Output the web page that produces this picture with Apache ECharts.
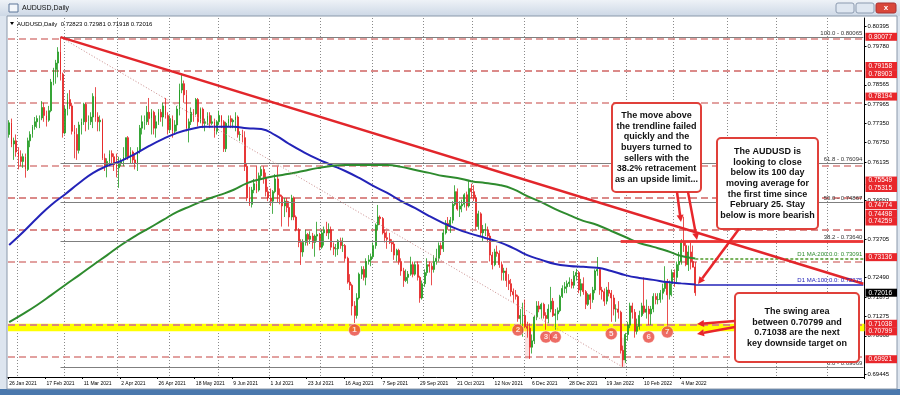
<!DOCTYPE html>
<html><head><meta charset="utf-8">
<script src="https://cdn.jsdelivr.net/npm/echarts@6/dist/echarts.min.js"></script>
<style>html,body{margin:0;padding:0;background:#fff}#c{width:900px;height:395px}</style>
</head><body><div id="c"></div>
<script>
// ---------- DATA ----------
const nCats = 367;
const xTickDates = ['2021-01-26','2021-02-17','2021-03-11','2021-04-02','2021-04-26','2021-05-18','2021-06-09','2021-07-01','2021-07-23','2021-08-16','2021-09-07','2021-09-29','2021-10-21','2021-11-12','2021-12-06','2021-12-28','2022-01-19','2022-02-10','2022-03-04'];
const xTickLabels = ['26 Jan 2021','17 Feb 2021','11 Mar 2021','2 Apr 2021','26 Apr 2021','18 May 2021','9 Jun 2021','1 Jul 2021','23 Jul 2021','16 Aug 2021','7 Sep 2021','29 Sep 2021','21 Oct 2021','12 Nov 2021','6 Dec 2021','28 Dec 2021','19 Jan 2022','10 Feb 2022','4 Mar 2022'];
const yTicks = [0.80395,0.79780,0.78565,0.77965,0.77350,0.76750,0.76135,0.74920,0.73705,0.72490,0.71875,0.71275,0.70660,0.69445];
// daily candles [open, high, low, close], one per weekday from 26 Jan 2021
const ohlc = [
[0.7700,0.7745,0.7690,0.7737],[0.7737,0.7750,0.7660,0.7670],[0.7670,0.7690,0.7620,0.7680],[0.7680,0.7700,0.7630,0.7645],[0.7645,0.7660,0.7590,0.7630],
[0.7630,0.7650,0.7600,0.7615],[0.7615,0.7640,0.7595,0.7630],[0.7630,0.7640,0.7564,0.7590],[0.7590,0.7690,0.7585,0.7680],[0.7680,0.7710,0.7660,0.7700],
[0.7700,0.7730,0.7690,0.7725],[0.7725,0.7755,0.7715,0.7740],[0.7740,0.7760,0.7720,0.7750],[0.7750,0.7760,0.7720,0.7752],[0.7752,0.7805,0.7745,0.7785],
[0.7785,0.7800,0.7740,0.7760],[0.7760,0.7775,0.7725,0.7745],[0.7745,0.7790,0.7740,0.7775],[0.7775,0.7875,0.7770,0.7865],[0.7865,0.7910,0.7855,0.7905],
[0.7905,0.7935,0.7860,0.7925],[0.7925,0.7975,0.7880,0.7960],[0.7960,0.8007,0.7870,0.7890],[0.7890,0.7895,0.7690,0.7705],[0.7705,0.7790,0.7700,0.7780],
[0.7780,0.7830,0.7760,0.7810],[0.7810,0.7840,0.7780,0.7790],[0.7790,0.7800,0.7700,0.7710],[0.7710,0.7730,0.7625,0.7700],[0.7700,0.7720,0.7620,0.7650],
[0.7650,0.7740,0.7640,0.7730],[0.7730,0.7750,0.7700,0.7740],[0.7740,0.7800,0.7730,0.7795],[0.7795,0.7800,0.7710,0.7740],[0.7740,0.7760,0.7715,0.7740],
[0.7740,0.7770,0.7730,0.7755],[0.7755,0.7830,0.7720,0.7820],[0.7820,0.7849,0.7740,0.7755],[0.7755,0.7770,0.7710,0.7740],[0.7740,0.7760,0.7710,0.7745],
[0.7745,0.7750,0.7620,0.7625],[0.7625,0.7640,0.7585,0.7600],[0.7600,0.7625,0.7565,0.7615],[0.7615,0.7650,0.7600,0.7640],[0.7640,0.7650,0.7605,0.7630],
[0.7630,0.7640,0.7585,0.7605],[0.7605,0.7640,0.7565,0.7595],[0.7595,0.7630,0.7532,0.7610],[0.7610,0.7625,0.7600,0.7615],[0.7615,0.7660,0.7600,0.7630],
[0.7630,0.7690,0.7620,0.7690],[0.7690,0.7695,0.7620,0.7630],[0.7630,0.7660,0.7610,0.7645],[0.7645,0.7650,0.7610,0.7620],[0.7620,0.7640,0.7590,0.7610],
[0.7610,0.7660,0.7585,0.7650],[0.7650,0.7730,0.7640,0.7720],[0.7720,0.7760,0.7700,0.7740],[0.7740,0.7760,0.7715,0.7740],[0.7740,0.7790,0.7730,0.7770],
[0.7770,0.7815,0.7730,0.7750],[0.7750,0.7780,0.7700,0.7770],[0.7770,0.7775,0.7700,0.7720],[0.7720,0.7760,0.7690,0.7740],[0.7740,0.7780,0.7730,0.7770],
[0.7770,0.7780,0.7740,0.7755],[0.7755,0.7800,0.7725,0.7790],[0.7790,0.7815,0.7750,0.7760],[0.7760,0.7770,0.7700,0.7715],[0.7715,0.7760,0.7705,0.7750],
[0.7750,0.7760,0.7690,0.7710],[0.7710,0.7745,0.7700,0.7730],[0.7730,0.7790,0.7710,0.7780],[0.7780,0.7860,0.7760,0.7840],[0.7840,0.7891,0.7830,0.7860],
[0.7860,0.7870,0.7800,0.7825],[0.7825,0.7840,0.7710,0.7720],[0.7720,0.7750,0.7675,0.7740],[0.7740,0.7785,0.7730,0.7770],[0.7770,0.7780,0.7740,0.7765],
[0.7765,0.7815,0.7760,0.7810],[0.7810,0.7815,0.7725,0.7740],[0.7740,0.7785,0.7735,0.7780],[0.7780,0.7785,0.7720,0.7735],[0.7735,0.7750,0.7710,0.7740],
[0.7740,0.7770,0.7730,0.7760],[0.7760,0.7770,0.7720,0.7735],[0.7735,0.7760,0.7730,0.7740],[0.7740,0.7750,0.7690,0.7710],[0.7710,0.7745,0.7700,0.7740],
[0.7740,0.7775,0.7730,0.7760],[0.7760,0.7760,0.7720,0.7740],[0.7740,0.7745,0.7645,0.7655],[0.7655,0.7740,0.7645,0.7735],[0.7735,0.7760,0.7725,0.7750],
[0.7750,0.7760,0.7720,0.7740],[0.7740,0.7750,0.7720,0.7745],[0.7745,0.7770,0.7710,0.7755],[0.7755,0.7760,0.7690,0.7700],[0.7700,0.7710,0.7680,0.7700],
[0.7700,0.7715,0.7675,0.7690],[0.7690,0.7710,0.7585,0.7600],[0.7600,0.7610,0.7490,0.7500],[0.7500,0.7535,0.7475,0.7480],[0.7480,0.7535,0.7470,0.7525],
[0.7525,0.7560,0.7515,0.7545],[0.7545,0.7600,0.7515,0.7525],[0.7525,0.7580,0.7520,0.7570],[0.7570,0.7600,0.7560,0.7590],[0.7590,0.7600,0.7545,0.7565],
[0.7565,0.7580,0.7505,0.7520],[0.7520,0.7535,0.7490,0.7500],[0.7500,0.7530,0.7475,0.7490],[0.7490,0.7525,0.7450,0.7520],[0.7520,0.7575,0.7515,0.7560],
[0.7560,0.7599,0.7485,0.7510],[0.7510,0.7530,0.7480,0.7505],[0.7505,0.7510,0.7410,0.7475],[0.7475,0.7500,0.7440,0.7490],[0.7490,0.7500,0.7455,0.7470],
[0.7470,0.7490,0.7410,0.7440],[0.7440,0.7510,0.7430,0.7500],[0.7500,0.7505,0.7430,0.7440],[0.7440,0.7445,0.7395,0.7400],[0.7400,0.7405,0.7345,0.7360],
[0.7360,0.7370,0.7289,0.7330],[0.7330,0.7370,0.7315,0.7360],[0.7360,0.7400,0.7350,0.7385],[0.7385,0.7390,0.7350,0.7370],[0.7370,0.7395,0.7355,0.7380],
[0.7380,0.7390,0.7340,0.7360],[0.7360,0.7385,0.7315,0.7380],[0.7380,0.7425,0.7365,0.7385],[0.7385,0.7390,0.7335,0.7345],[0.7345,0.7400,0.7340,0.7390],
[0.7390,0.7410,0.7350,0.7400],[0.7400,0.7425,0.7380,0.7390],[0.7390,0.7420,0.7370,0.7400],[0.7400,0.7410,0.7335,0.7345],[0.7345,0.7360,0.7320,0.7340],
[0.7340,0.7355,0.7315,0.7340],[0.7340,0.7370,0.7320,0.7365],[0.7365,0.7375,0.7340,0.7350],[0.7350,0.7375,0.7330,0.7350],[0.7350,0.7355,0.7300,0.7310],
[0.7310,0.7315,0.7230,0.7235],[0.7235,0.7260,0.7210,0.7225],[0.7225,0.7230,0.7130,0.7160],[0.7160,0.7175,0.7106,0.7130],[0.7130,0.7200,0.7120,0.7185],
[0.7185,0.7265,0.7180,0.7260],[0.7260,0.7285,0.7245,0.7275],[0.7275,0.7285,0.7240,0.7250],[0.7250,0.7310,0.7225,0.7300],[0.7300,0.7320,0.7290,0.7305],
[0.7305,0.7325,0.7285,0.7315],[0.7315,0.7360,0.7310,0.7350],[0.7350,0.7420,0.7340,0.7415],[0.7415,0.7478,0.7400,0.7440],[0.7440,0.7445,0.7415,0.7435],
[0.7435,0.7440,0.7385,0.7390],[0.7390,0.7400,0.7360,0.7375],[0.7375,0.7395,0.7340,0.7370],[0.7370,0.7390,0.7355,0.7360],[0.7360,0.7370,0.7330,0.7355],
[0.7355,0.7365,0.7305,0.7320],[0.7320,0.7340,0.7300,0.7335],[0.7335,0.7340,0.7290,0.7300],[0.7300,0.7310,0.7255,0.7270],[0.7270,0.7280,0.7220,0.7240],
[0.7240,0.7275,0.7235,0.7250],[0.7250,0.7270,0.7230,0.7260],[0.7260,0.7315,0.7255,0.7290],[0.7290,0.7300,0.7250,0.7260],[0.7260,0.7300,0.7255,0.7290],
[0.7290,0.7300,0.7240,0.7250],[0.7250,0.7255,0.7170,0.7185],[0.7185,0.7240,0.7180,0.7230],[0.7230,0.7275,0.7220,0.7265],[0.7265,0.7310,0.7255,0.7290],
[0.7290,0.7300,0.7265,0.7285],[0.7285,0.7295,0.7225,0.7275],[0.7275,0.7320,0.7265,0.7300],[0.7300,0.7340,0.7290,0.7310],[0.7310,0.7360,0.7300,0.7350],
[0.7350,0.7360,0.7320,0.7340],[0.7340,0.7400,0.7330,0.7390],[0.7390,0.7430,0.7385,0.7420],[0.7420,0.7440,0.7400,0.7410],[0.7410,0.7440,0.7390,0.7430],
[0.7430,0.7490,0.7420,0.7480],[0.7480,0.7540,0.7475,0.7520],[0.7520,0.7530,0.7460,0.7465],[0.7465,0.7490,0.7440,0.7475],[0.7475,0.7495,0.7455,0.7480],
[0.7480,0.7515,0.7470,0.7510],[0.7510,0.7520,0.7460,0.7475],[0.7475,0.7556,0.7470,0.7530],[0.7530,0.7545,0.7500,0.7520],[0.7520,0.7540,0.7490,0.7500],
[0.7500,0.7510,0.7400,0.7410],[0.7410,0.7460,0.7400,0.7450],[0.7450,0.7455,0.7380,0.7390],[0.7390,0.7415,0.7365,0.7400],[0.7400,0.7420,0.7380,0.7400],
[0.7400,0.7410,0.7360,0.7380],[0.7380,0.7390,0.7300,0.7320],[0.7320,0.7330,0.7275,0.7290],[0.7290,0.7340,0.7285,0.7330],[0.7330,0.7350,0.7315,0.7325],
[0.7325,0.7335,0.7280,0.7290],[0.7290,0.7300,0.7240,0.7265],[0.7265,0.7280,0.7240,0.7270],[0.7270,0.7280,0.7220,0.7240],[0.7240,0.7260,0.7210,0.7230],
[0.7230,0.7245,0.7190,0.7205],[0.7205,0.7215,0.7170,0.7195],[0.7195,0.7210,0.7180,0.7190],[0.7190,0.7195,0.7110,0.7120],[0.7120,0.7150,0.7100,0.7130],
[0.7130,0.7170,0.7063,0.7130],[0.7130,0.7180,0.7090,0.7095],[0.7095,0.7110,0.7060,0.7090],[0.7090,0.7105,0.6993,0.7030],[0.7030,0.7070,0.7010,0.7050],
[0.7050,0.7130,0.7040,0.7125],[0.7125,0.7175,0.7115,0.7160],[0.7160,0.7175,0.7140,0.7150],[0.7150,0.7170,0.7120,0.7165],[0.7165,0.7170,0.7120,0.7130],
[0.7130,0.7140,0.7085,0.7120],[0.7120,0.7165,0.7105,0.7150],[0.7150,0.7220,0.7140,0.7175],[0.7175,0.7185,0.7125,0.7130],[0.7130,0.7150,0.7085,0.7135],
[0.7135,0.7155,0.7115,0.7145],[0.7145,0.7195,0.7140,0.7190],[0.7190,0.7225,0.7185,0.7215],[0.7215,0.7235,0.7200,0.7220],[0.7220,0.7240,0.7200,0.7230],
[0.7230,0.7250,0.7220,0.7235],[0.7235,0.7245,0.7215,0.7225],[0.7225,0.7270,0.7215,0.7255],[0.7255,0.7277,0.7240,0.7265],[0.7265,0.7270,0.7200,0.7210],
[0.7210,0.7245,0.7190,0.7230],[0.7230,0.7250,0.7195,0.7205],[0.7205,0.7210,0.7150,0.7165],[0.7165,0.7200,0.7160,0.7195],[0.7195,0.7200,0.7150,0.7180],
[0.7180,0.7220,0.7170,0.7210],[0.7210,0.7275,0.7200,0.7270],[0.7270,0.7314,0.7255,0.7275],[0.7275,0.7280,0.7195,0.7210],[0.7210,0.7220,0.7180,0.7205],
[0.7205,0.7215,0.7160,0.7175],[0.7175,0.7220,0.7165,0.7210],[0.7210,0.7235,0.7190,0.7200],[0.7200,0.7210,0.7110,0.7185],[0.7185,0.7195,0.7130,0.7150],
[0.7150,0.7165,0.7110,0.7150],[0.7150,0.7175,0.7120,0.7140],[0.7140,0.7145,0.7010,0.7020],[0.7020,0.7035,0.6967,0.6990],[0.6990,0.7075,0.6980,0.7070],
[0.7070,0.7110,0.7050,0.7100],[0.7100,0.7170,0.7090,0.7160],[0.7160,0.7170,0.7120,0.7140],[0.7140,0.7150,0.7060,0.7080],[0.7080,0.7120,0.7070,0.7095],
[0.7095,0.7145,0.7085,0.7130],[0.7130,0.7170,0.7125,0.7160],[0.7160,0.7250,0.7135,0.7140],[0.7140,0.7180,0.7120,0.7150],[0.7150,0.7160,0.7100,0.7135],
[0.7135,0.7160,0.7100,0.7150],[0.7150,0.7200,0.7140,0.7190],[0.7190,0.7200,0.7165,0.7180],[0.7180,0.7200,0.7165,0.7180],[0.7180,0.7210,0.7170,0.7200],
[0.7200,0.7230,0.7180,0.7215],[0.7215,0.7285,0.7205,0.7235],[0.7235,0.7245,0.7094,0.7195],[0.7195,0.7240,0.7180,0.7230],[0.7230,0.7275,0.7190,0.7265],
[0.7265,0.7275,0.7220,0.7250],[0.7250,0.7300,0.7235,0.7290],[0.7290,0.7330,0.7270,0.7300],[0.7300,0.7370,0.7290,0.7360],[0.7360,0.7441,0.7330,0.7350],
[0.7350,0.7360,0.7285,0.7290],[0.7290,0.7350,0.7270,0.7330],[0.7330,0.7360,0.7275,0.7300],[0.7300,0.7350,0.7285,0.7282],[0.72823,0.72981,0.71918,0.72016]
];
// moving averages read every 6th bar
const maStep = 6;
const ma100 = [0.7352,0.7393,0.7437,0.7478,0.7512,0.7547,0.7579,0.7601,0.7617,0.7639,0.7664,0.7686,0.7705,0.7717,0.7724,0.7724,0.7724,0.7720,0.7717,0.7698,0.7670,0.7645,0.7623,0.7604,0.7585,0.7563,0.7538,0.7516,0.7490,0.7468,0.7443,0.7421,0.7402,0.7387,0.7374,0.7361,0.7342,0.7320,0.7305,0.7292,0.7286,0.7283,0.7280,0.7270,0.7257,0.7248,0.7242,0.7235,0.7231,0.72275];
const ma200 = [0.7109,0.7135,0.7163,0.7194,0.7226,0.7257,0.7289,0.7320,0.7352,0.7380,0.7405,0.7431,0.7456,0.7475,0.7494,0.7509,0.7525,0.7547,0.7560,0.7569,0.7576,0.7585,0.7594,0.7601,0.7604,0.7604,0.7604,0.7604,0.7598,0.7588,0.7579,0.7569,0.7563,0.7553,0.7547,0.7541,0.7528,0.7506,0.7487,0.7465,0.7446,0.7428,0.7415,0.7396,0.7377,0.7358,0.7346,0.7333,0.7317,0.73091];
const ma100Last = 0.72275, ma200Last = 0.73091;
const redLevels = [0.80077,0.79158,0.78903,0.78194,0.75549,0.75315,0.74774,0.74498,0.74259,0.73136,0.71038,0.70799,0.69921];
const bidPrice = 0.72016;
const fibLevels = [0.80065,0.76094,0.74867,0.73640,0.69669];
const fibNames = ['100.0','61.8','50.0','38.2','0.0'];
const fibHighDate = '2021-02-25', fibLowDate = '2022-01-28';
const trendStart = ['2021-02-25',0.80065], trendEndValue = 0.7230;
const resist382Start = '2022-01-27';
const zone = [0.70799,0.71038];
const markerDates = ['2021-08-20','2021-11-26','2021-12-14','2021-12-20','2022-01-21','2022-02-14','2022-02-24'];
const markerValues = [0.7084,0.7084,0.7062,0.7062,0.7072,0.7062,0.7078];
const markerLabels = ['1','2','3','4','5','6','7'];
const lowHighlights = [['2021-12-01','2021-12-03',0.6993,0.7095],['2022-01-27','2022-01-31',0.6967,0.7060]];
const headerText = 'AUDUSD,Daily  0.72823 0.72981 0.71918 0.72016';

// ---------- BUILD ----------
const dates = [];
{ const d = new Date(Date.UTC(2021,0,26));
  while (dates.length < nCats) { const w = d.getUTCDay(); if (w!==0 && w!==6) dates.push(d.toISOString().slice(0,10)); d.setUTCDate(d.getUTCDate()+1); } }
const lastCat = dates[dates.length-1];
const lastBar = dates[ohlc.length-1];
const monthStart = new Set();
for (let i=1;i<dates.length;i++) if (dates[i].slice(5,7)!==dates[i-1].slice(5,7)) monthStart.add(i);

const FONT = 'Liberation Sans';
const RED = '#e8262b';
const YMIN = 0.69361, YMAX = 0.80669;
const chart = echarts.init(document.getElementById('c'), null, {renderer:'canvas'});

const fibLines = fibLevels.map((v,k)=>[{coord:[fibHighDate,v], label:{show:true, position:'insideEndTop', distance:1, formatter: fibNames[k]+' - '+v.toFixed(5), color:'#333', fontSize:6, fontFamily:FONT}},{coord:[lastCat,v]}]);

function arrow(x1,y1,x2,y2){
  const a = Math.atan2(y2-y1,x2-x1), L=7, W=3.5;
  const bx = x2-L*Math.cos(a), by = y2-L*Math.sin(a);
  return [
    {type:'line', z:100, shape:{x1,y1,x2:bx,y2:by}, style:{stroke:RED, lineWidth:2.5}},
    {type:'polygon', z:100, shape:{points:[[x2,y2],[bx+W*Math.sin(a),by-W*Math.cos(a)],[bx-W*Math.sin(a),by+W*Math.cos(a)]]}, style:{fill:RED}}
  ];
}
function box(x,y,w,h,text){
  return [
    {type:'rect', z:100, shape:{x,y,width:w,height:h,r:4}, style:{fill:'#fff', stroke:'#e0403a', lineWidth:2}},
    {type:'text', z:101, style:{x:x+w/2, y:y+h/2, text, align:'center', verticalAlign:'middle', font:'bold 9px "Liberation Sans"', lineHeight:10.7, fill:'#111'}}
  ];
}

const graphics = [
  {type:'rect', z:-100, silent:true, shape:{x:0,y:0,width:900,height:395}, style:{fill:'#dde5ef'}},
  {type:'rect', z:-99, silent:true, shape:{x:0,y:0,width:900,height:16}, style:{fill:new echarts.graphic.LinearGradient(0,0,0,1,[{offset:0,color:'#eef2f7'},{offset:1,color:'#cdd8e6'}])}},
  {type:'rect', z:-98, silent:true, shape:{x:7,y:16,width:890,height:373}, style:{fill:'#fff', stroke:'#8a98aa', lineWidth:1}},
  {type:'rect', z:-99, silent:true, shape:{x:0,y:389,width:900,height:6}, style:{fill:'#4a78ad'}},
  {type:'rect', z:1, shape:{x:9,y:4,width:9,height:8}, style:{fill:'#f4f7fb', stroke:'#5c7799', lineWidth:1}},
  {type:'text', z:1, style:{x:22, y:8, text:'AUDUSD,Daily', font:'7px "Liberation Sans"', fill:'#111', verticalAlign:'middle'}},
  {type:'rect', z:1, shape:{x:836,y:3,width:18,height:10,r:2}, style:{fill:'#dfe7f1', stroke:'#8c9bb0'}},
  {type:'rect', z:1, shape:{x:856,y:3,width:18,height:10,r:2}, style:{fill:'#dfe7f1', stroke:'#8c9bb0'}},
  {type:'rect', z:1, shape:{x:876,y:3,width:20,height:10,r:2}, style:{fill:'#d9473a', stroke:'#a33'}},
  {type:'text', z:2, style:{x:886, y:8, text:'x', font:'bold 8px "Liberation Sans"', fill:'#fff', align:'center', verticalAlign:'middle'}},
  {type:'polygon', z:2, shape:{points:[[10,22],[14,22],[12,25]]}, style:{fill:'#000'}},
  {type:'text', z:2, style:{x:17, y:24, text:headerText, font:'6px "Liberation Sans"', fill:'#000', verticalAlign:'middle'}},
  ...box(612,103,89,89,'The move above\nthe trendline failed\nquickly and the\nbuyers turned to\nsellers with the\n38.2% retracement\nas an upside limit...'),
  ...box(717,138,101,91,'The AUDUSD is\nlooking to close\nbelow its 100 day\nmoving average for\nthe first time since\nFebruary 25. Stay\nbelow is more bearish'),
  ...box(735,293,124,69,'The swing area\nbetween 0.70799 and\n0.71038 are the next\nkey downside target on'),
  ...arrow(677,192,681,222),
  ...arrow(688,192,697,240),
  ...arrow(739,229,698,284),
  ...arrow(735,321,697,324),
  ...arrow(735,327,697,334)
];

function labelAxis(values, bg){
  return {type:'value', position:'right', min:YMIN, max:YMAX, scale:true,
    axisLine:{show:false}, axisTick:{show:false}, splitLine:{show:false},
    axisLabel:{customValues:values, formatter:v=>v.toFixed(5), fontSize:6.5, fontFamily:FONT, color:'#fff', backgroundColor:bg, padding:[1,5,0,3], margin:1, hideOverlap:false}};
}

const option = {
  animation:false,
  backgroundColor:'transparent',
  graphic: graphics,
  grid:{left:8, right:34, top:18, bottom:18},
  xAxis:{type:'category', data:dates, boundaryGap:true,
    axisLine:{show:true, lineStyle:{color:'#000', width:1}},
    axisTick:{show:true, length:2, interval:(i,v)=>xTickDates.includes(v), lineStyle:{color:'#000'}},
    axisLabel:{interval:(i,v)=>xTickDates.includes(v), formatter:v=>xTickLabels[xTickDates.indexOf(v)], fontSize:5, fontFamily:FONT, color:'#000', align:'left', margin:4},
    splitLine:{show:true, interval:(i)=>monthStart.has(i), lineStyle:{color:'#8a8a8a', type:[1,2], width:1}}},
  yAxis:[
    {type:'value', position:'right', min:YMIN, max:YMAX, scale:true,
      axisLine:{show:true, lineStyle:{color:'#000'}},
      axisTick:{show:true, length:2, customValues:yTicks, lineStyle:{color:'#000'}},
      axisLabel:{customValues:yTicks, formatter:v=>v.toFixed(5), fontSize:6, fontFamily:FONT, color:'#000', margin:3},
      splitLine:{show:false}},
    labelAxis(redLevels, RED),
    labelAxis([bidPrice], '#000')
  ],
  series:[
    {type:'candlestick', name:'AUDUSD', barWidth:1.4, z:3,
      data: ohlc.map(r=>[r[0],r[3],r[2],r[1]]),
      itemStyle:{color:'#1f9a1f', color0:'#e42222', borderColor:'#1f9a1f', borderColor0:'#e42222', borderWidth:0.8},
      markArea:{silent:true, z:1, data:[
        [{yAxis:zone[0], itemStyle:{color:'#ffff00'}},{yAxis:zone[1]}],
        ...lowHighlights.map(h=>[{coord:[h[0],h[2]], itemStyle:{color:'rgba(240,170,170,0.35)'}},{coord:[h[1],h[3]]}])
      ]},
      markLine:{silent:true, symbol:['none','none'], z:2, lineStyle:{color:'#d98281', type:[7,4], width:1.5}, label:{show:false},
        data: redLevels.map(v=>({yAxis:v}))}
    },
    {type:'line', name:'MA100', smooth:true, symbol:'none', z:4,
      data: ma100.map((v,k)=>[dates[k*maStep], v]),
      lineStyle:{color:'#2323b8', width:2},
      markLine:{silent:true, symbol:['none','none'], lineStyle:{color:'#2323b8', width:1.5, type:'solid'},
        data:[[{coord:[lastBar,ma100Last], label:{show:true, position:'insideEndTop', distance:1, formatter:'D1 MA:100:0.0: '+ma100Last.toFixed(5), color:'#2323b8', fontSize:6, fontFamily:FONT}},{coord:[lastCat,ma100Last]}]]}
    },
    {type:'line', name:'MA200', smooth:true, symbol:'none', z:4,
      data: ma200.map((v,k)=>[dates[k*maStep], v]),
      lineStyle:{color:'#2e8b2e', width:2},
      markLine:{silent:true, symbol:['none','none'], lineStyle:{color:'#4f9a2a', width:1.5, type:[3,2]},
        data:[[{coord:[lastBar,ma200Last], label:{show:true, position:'insideEndTop', distance:1, formatter:'D1 MA:200:0.0: '+ma200Last.toFixed(5), color:'#2e8b2e', fontSize:6, fontFamily:FONT}},{coord:[lastCat,ma200Last]}]]}
    },
    {type:'line', name:'lines', data:[], z:5,
      markLine:{silent:true, symbol:['none','none'], lineStyle:{color:'#7f7f7f', width:1.2, type:'solid'},
        data:[...fibLines,
          [{coord:[fibHighDate,fibLevels[0]], lineStyle:{color:'#c98b8b', type:[1,2], width:1}},{coord:[fibLowDate,fibLevels[4]]}],
          [{coord:trendStart, lineStyle:{color:'#e2262b', width:2.5, type:'solid'}},{coord:[lastCat,trendEndValue]}],
          [{coord:[resist382Start,fibLevels[3]], lineStyle:{color:'#f03030', width:3, type:'solid', opacity:0.9}},{coord:[lastCat,fibLevels[3]]}]
        ]}
    },
    {type:'scatter', name:'swings', z:8, symbol:'circle', symbolSize:12,
      data: markerDates.map((d,k)=>({value:[d, markerValues[k]], label:{formatter:markerLabels[k]}})),
      itemStyle:{color:'#e8473e', borderColor:'#fff', borderWidth:0.5},
      label:{show:true, position:'inside', color:'#fff', fontSize:8, fontWeight:'bold', fontFamily:FONT}
    }
  ]
};
chart.setOption(option);
</script></body></html>
